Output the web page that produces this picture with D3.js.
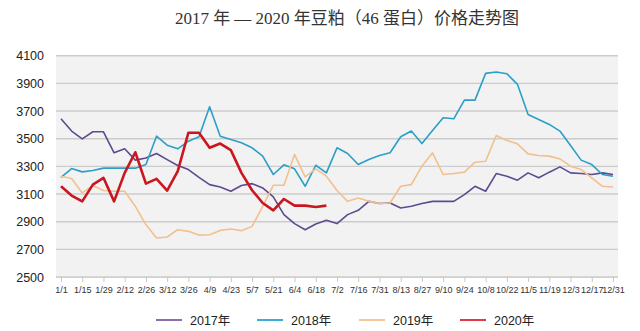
<!DOCTYPE html>
<html><head><meta charset="utf-8">
<script src="https://cdn.jsdelivr.net/npm/d3@7"></script>
<style>
html,body{margin:0;padding:0;background:#fff;}
svg{display:block;}
</style></head>
<body>
<svg id="c" width="640" height="331"></svg>
<script>
const tickLabels = ["1/1","1/15","1/29","2/12","2/26","3/12","3/26","4/9","4/23","5/7","5/21","6/4","6/18","7/2","7/16","7/31","8/13","8/27","9/10","9/24","10/8","10/22","11/5","11/19","12/3","12/17","12/31"];
const yTicks = [2500,2700,2900,3100,3300,3500,3700,3900,4100];
const seriesNames = ["2017年","2018年","2019年","2020年"];
const s2017 = [3644,3555,3499,3550,3550,3398,3427,3345,3361,3393,3349,3306,3277,3220,3168,3151,3120,3161,3175,3144,3079,2951,2886,2842,2883,2910,2886,2951,2982,3047,3031,3035,2999,3011,3031,3047,3047,3047,3096,3156,3120,3248,3229,3200,3253,3217,3258,3296,3253,3248,3241,3253,3241];
const s2018 = [3221,3284,3260,3270,3287,3287,3287,3287,3313,3518,3453,3427,3482,3514,3731,3518,3494,3470,3434,3374,3241,3311,3282,3156,3308,3253,3434,3393,3313,3349,3378,3398,3514,3555,3465,3559,3651,3644,3779,3779,3972,3982,3970,3893,3675,3639,3603,3555,3451,3345,3313,3241,3229];
const s2019 = [3229,3212,3108,3161,3125,3120,3120,3011,2879,2782,2789,2842,2830,2803,2806,2837,2847,2835,2866,3011,3163,3163,3386,3224,3282,3229,3125,3047,3071,3047,3031,3035,3156,3168,3301,3398,3241,3248,3258,3330,3337,3523,3487,3463,3390,3378,3374,3354,3301,3277,3217,3156,3151];
const s2020 = [3156,3089,3047,3168,3217,3047,3253,3402,3175,3209,3125,3265,3543,3543,3434,3465,3417,3253,3127,3035,2982,3064,3016,3016,3006,3016];
const colors = ["#5e4a8e","#2b9fc8","#f2c08f","#c9161f"];
const legendColors = ["#8a70ad","#3aaedb","#f5c79b","#df3a4a"];
const widths = [1.6,1.6,1.6,2.6];
const allSeries = [s2017,s2018,s2019,s2020];

const svg = d3.select("#c");
const bgX0 = 56, bgX1 = 618, yTop = 55.7, yBot = 277;
const x = d3.scaleLinear().domain([0,52]).range([61,613]);
const y = d3.scaleLinear().domain([2500,4100]).range([yBot,yTop]);

// title
svg.append("text").attr("x",347).attr("y",24).attr("text-anchor","middle")
  .style("font-family","'Liberation Serif','Noto Sans CJK SC',serif").style("font-size","17px").style("fill","#333")
  .text("2017 年 — 2020 年豆粕（46 蛋白）价格走势图");

// plot background
svg.append("rect").attr("x",bgX0).attr("y",yTop).attr("width",bgX1-bgX0).attr("height",yBot-yTop).attr("fill","#f2f2f2");

// gridlines
svg.append("g").selectAll("line").data(yTicks).join("line")
  .attr("x1",bgX0).attr("x2",bgX1).attr("y1",d=>y(d)).attr("y2",d=>y(d))
  .attr("stroke","#cccccc").attr("stroke-width",1.4);

// y labels
svg.append("g").selectAll("text").data(yTicks).join("text")
  .attr("x",44).attr("y",d=>y(d)+4.5).attr("text-anchor","end")
  .style("font-family","'Liberation Sans',Arial,sans-serif").style("font-size","12.5px").style("fill","#222")
  .text(d=>d);

// x axis
const xAxis = d3.axisBottom(x).tickValues(d3.range(0,53,2)).tickFormat((d,i)=>tickLabels[i]).tickSize(5).tickPadding(5);
const gx = svg.append("g").attr("transform",`translate(0,${yBot})`).call(xAxis);
gx.select(".domain").attr("stroke","#d0d0d0").attr("d",`M${bgX0},0.5H${bgX1}`);
gx.selectAll(".tick line").attr("stroke","#c8c8c8");
gx.selectAll(".tick text").style("font-family","'Liberation Sans Narrow','Liberation Sans',sans-serif").style("font-size","9px").style("fill","#333");

// lines
const line = d3.line().x((d,i)=>x(i)).y(d=>y(d));
allSeries.forEach((s,k)=>{
  svg.append("path").datum(s).attr("d",line).attr("fill","none")
    .attr("stroke",colors[k]).attr("stroke-width",widths[k]).attr("stroke-linejoin","round");
});

// legend
const legX = [156,257,359,460];
const lg = svg.append("g");
seriesNames.forEach((n,k)=>{
  lg.append("line").attr("x1",legX[k]).attr("x2",legX[k]+26).attr("y1",320).attr("y2",320)
    .attr("stroke",legendColors[k]).attr("stroke-width",2);
  lg.append("text").attr("x",legX[k]+34).attr("y",324.5)
    .style("font-family","'Liberation Sans','Noto Sans CJK SC',sans-serif").style("font-size","12.5px").style("fill","#222")
    .text(n);
});
</script>
</body></html>
